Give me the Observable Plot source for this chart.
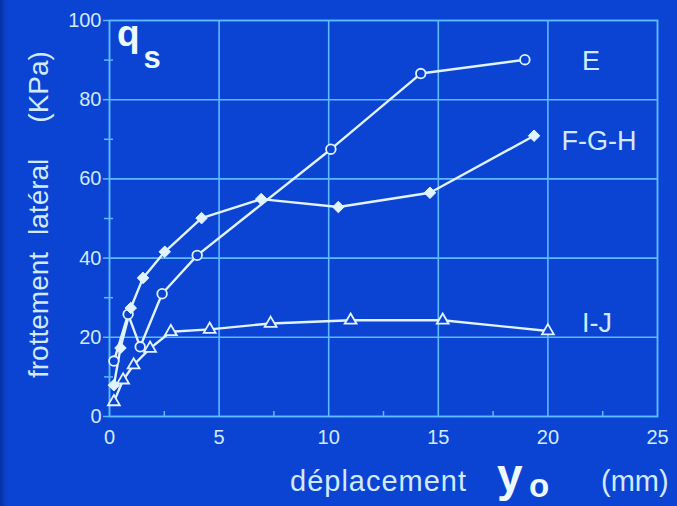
<!DOCTYPE html>
<html>
<head>
<meta charset="utf-8">
<script src="https://cdn.jsdelivr.net/npm/d3@7"></script>
<script src="https://cdn.jsdelivr.net/npm/@observablehq/plot@0.6"></script>
<style>
  html, body { margin: 0; padding: 0; background: #0b43d3; }
  #chart { width: 677px; height: 506px; overflow: hidden;
           background: linear-gradient(to right, #06309e 0px, #0a3fc8 5px, #0b43d3 9px); }
  #chart svg { display: block; }
</style>
</head>
<body>
<div id="chart"></div>
<script>
// Lateral friction qs (kPa) against displacement y0 (mm), three pile groups
const seriesNames = ["E", "F-G-H", "I-J"];

const dispE = [0.2, 0.85, 1.4, 2.4, 4.0, 10.1, 14.2, 18.95];
const qsE   = [14, 25.8, 17.6, 31, 40.7, 67.5, 86.6, 90.1];

const dispFGH = [0.2, 0.5, 0.97, 1.53, 2.52, 4.2, 6.92, 10.44, 14.62, 19.37];
const qsFGH   = [7.9, 17.3, 27.4, 35, 41.6, 50.1, 54.9, 52.9, 56.5, 70.9];

const dispIJ = [0.2, 0.62, 1.1, 1.85, 2.8, 4.57, 7.35, 11.0, 15.2, 20.0];
const qsIJ   = [3.7, 9.2, 13, 17.2, 21.4, 22, 23.5, 24.3, 24.3, 21.6];

const xTicks = [0, 5, 10, 15, 20, 25];
const xMinorTicks = [2.5, 7.5, 12.5, 17.5, 22.5];
const yTicks = [0, 20, 40, 60, 80, 100];
const yMinorTicks = [10, 30, 50, 70, 90];

const xTitle = ["déplacement", "y", "o", "(mm)"];
const yTitle = ["frottement", "latéral", "(KPa)"];
const qTitle = ["q", "s"];

const BG = "#0b43d3";
const GRID = "#5cbaff";
const INK = "#e0f3ff";
const TEXT = "#d2eaff";
const FONT = "'Liberation Sans', Arial, Helvetica, sans-serif";

const toRows = (name, xs, ys) => xs.map((x, i) => ({series: name, x, y: ys[i]}));
const rowsE = toRows(seriesNames[0], dispE, qsE);
const rowsFGH = toRows(seriesNames[1], dispFGH, qsFGH);
const rowsIJ = toRows(seriesNames[2], dispIJ, qsIJ);
const allRows = [...rowsE, ...rowsFGH, ...rowsIJ];

const chart = Plot.plot({
  width: 677,
  height: 506,
  marginLeft: 109,
  marginRight: 20,
  marginTop: 20,
  marginBottom: 90,
  style: {background: "transparent", color: TEXT, fontFamily: FONT, overflow: "visible"},
  x: {domain: [0, 25]},
  y: {domain: [0, 100]},
  marks: [
    Plot.gridX(xTicks.slice(1, -1), {stroke: GRID, strokeOpacity: 1, strokeWidth: 1.6}),
    Plot.gridY(yTicks.slice(1, -1), {stroke: GRID, strokeOpacity: 1, strokeWidth: 1.6}),
    Plot.frame({stroke: GRID, strokeWidth: 1.9}),
    // major tick labels
    Plot.axisX(xTicks, {tickSize: 0, tickPadding: 13, fontSize: 20, fill: TEXT, label: null}),
    Plot.axisY(yTicks, {tickSize: 6, tickPadding: 2, fontSize: 20, fill: TEXT, stroke: GRID, strokeWidth: 1.5, label: null}),
    // minor ticks crossing the axes
    Plot.axisX(xMinorTicks, {tickSize: 5, dy: -5, text: null, stroke: GRID, strokeWidth: 1.5, label: null}),
    Plot.axisY(yMinorTicks, {tickSize: 9, dx: 4, text: null, stroke: GRID, strokeWidth: 1.5, label: null}),
    // curves
    Plot.line(allRows, {x: "x", y: "y", z: "series", stroke: INK, strokeWidth: 2.4}),
    Plot.dot(rowsE, {x: "x", y: "y", symbol: "circle", r: 4.8, fill: BG, stroke: INK, strokeWidth: 1.8}),
    Plot.dot(rowsFGH, {x: "x", y: "y", symbol: "diamond2", r: 5.2, fill: INK, stroke: INK, strokeWidth: 1}),
    Plot.dot(rowsIJ, {x: "x", y: "y", symbol: "triangle", r: 4.4, fill: BG, stroke: INK, strokeWidth: 1.8})
  ]
});

document.getElementById("chart").appendChild(chart);

const svg = d3.select(chart);
const ann = svg.append("g")
  .attr("font-family", FONT)
  .attr("text-anchor", "start")
  .attr("fill", TEXT);

// series labels at the right of the frame
const seriesLabelPos = [[591, 70], [599, 150], [597, 332]];
seriesNames.forEach((name, i) => {
  ann.append("text")
    .attr("x", seriesLabelPos[i][0])
    .attr("y", seriesLabelPos[i][1])
    .attr("text-anchor", "middle")
    .attr("font-size", 27)
    .text(name);
});

// "qs" in the upper-left corner of the frame
const q = ann.append("text").attr("x", 117).attr("y", 46).attr("font-weight", "bold").attr("fill", "#eef8ff");
q.append("tspan").attr("font-size", 37).text(qTitle[0]);
q.append("tspan").attr("font-size", 31).attr("dx", 4).attr("dy", 22).text(qTitle[1]);

// x-axis title
ann.append("text").attr("x", 290).attr("y", 491).attr("font-size", 29).attr("letter-spacing", 1).text(xTitle[0]);
ann.append("text").attr("x", 497).attr("y", 491).attr("font-size", 46).attr("font-weight", "bold").attr("fill", "#eef8ff").text(xTitle[1]);
ann.append("text").attr("x", 529).attr("y", 497).attr("font-size", 33).attr("font-weight", "bold").attr("fill", "#eef8ff").text(xTitle[2]);
ann.append("text").attr("x", 601).attr("y", 491).attr("font-size", 29).text(xTitle[3]);

// y-axis title, rotated
const yt = ann.append("text")
  .attr("transform", "translate(48,378) rotate(-90)")
  .attr("font-size", 28);
yt.append("tspan").text(yTitle[0]);
yt.append("tspan").attr("dx", 17).text(yTitle[1]);
yt.append("tspan").attr("dx", 36).text(yTitle[2]);
</script>
</body>
</html>
